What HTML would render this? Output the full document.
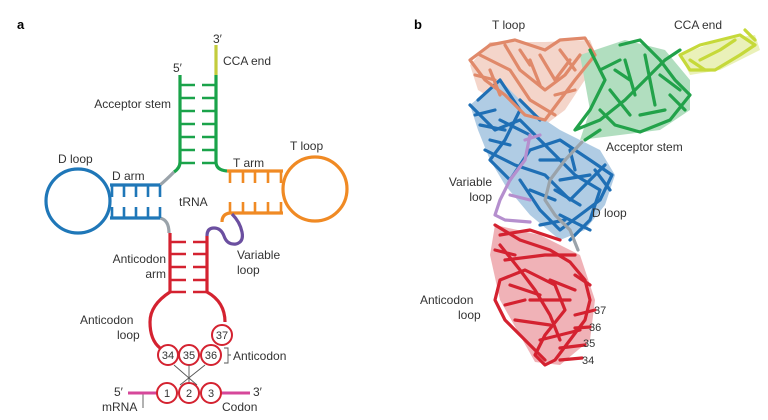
<!DOCTYPE html>
<html><head><meta charset="utf-8"><style>
body{margin:0;background:#fff;}
svg{display:block;font-family:"Liberation Sans",sans-serif;}
text{font-size:12px;fill:#333;}
</style></head><body>
<svg width="768" height="420" viewBox="0 0 768 420" xmlns="http://www.w3.org/2000/svg">
<text x="17" y="29" style="font-weight:bold;font-size:13px;fill:#000">a</text>
<text x="414" y="29" style="font-weight:bold;font-size:13px;fill:#000">b</text>
<g fill="none" stroke-width="3.2">
<path d="M180 75 V162 Q180 168 174 172" stroke="#1aa34a"/>
<path d="M216 75 V162 Q216 170 227 171" stroke="#1aa34a"/>
<line x1="216" y1="45" x2="216" y2="75" stroke="#c3cc3c"/>
<g stroke="#1aa34a" stroke-width="2.6">
<path d="M180 85h15M180 98h15M180 111h15M180 124h15M180 137h15M180 150h15M180 163h15"/>
<path d="M202 85h14M202 98h14M202 111h14M202 124h14M202 137h14M202 150h14M202 163h14"/>
</g>
<path d="M174 172 Q165 181 160 185" stroke="#9aa3aa"/>
<path d="M160 218 Q169 220 169 233" stroke="#9aa3aa"/>
<g stroke="#1f77b8">
<path d="M160 185 H110"/>
<path d="M160 218 H110"/>
<circle cx="78" cy="201" r="32"/>
<path d="M112 185v12M124 185v12M136 185v12M148 185v12M160 185v12M112 218v-11M124 218v-11M136 218v-11M148 218v-11M160 218v-11" stroke-width="2.6"/>
</g>
<g stroke="#f08a24">
<path d="M227 171 H283"/>
<path d="M230 213 H283"/>
<circle cx="315" cy="189" r="32"/>
<path d="M230 171v12M243 171v12M255 171v12M268 171v12M281 171v12M230 213v-11M243 213v-11M255 213v-11M268 213v-11M281 213v-11" stroke-width="2.6"/>
</g>
<path d="M230 213 Q222 214 222 222" stroke="#f08a24"/>
<path d="M207 236 Q207 228 214 228 Q221 228 224 236 Q227 245 236 244 Q244 242 242 232 Q240 222 232 214" stroke="#6b4fa0"/>
</g>
<g fill="none" stroke="#d42230" stroke-width="3.2">
<path d="M170 233 V292 Q150 305 150 322 Q150 340 160 348"/>
<path d="M207 236 V292 Q225 302 225 322"/>
<path d="M170 242h16M170 254h16M170 267h16M170 280h16M170 292h16M193 242h14M193 254h14M193 267h14M193 280h14M193 292h14" stroke-width="2.6"/>
</g>
<g fill="#fff" stroke="#d42230" stroke-width="2">
<circle cx="222" cy="335" r="10"/>
<circle cx="168" cy="355" r="10"/><circle cx="189" cy="355" r="10"/><circle cx="211" cy="355" r="10"/>
</g>
<g stroke="#555" stroke-width="0.9" fill="none">
<line x1="174" y1="365" x2="197" y2="385"/><line x1="205" y1="365" x2="180" y2="385"/><line x1="189" y1="365" x2="189" y2="383"/>
<path d="M224 348h4v15h-4M228 355h3"/>
<path d="M143 393v15"/>
</g>
<g stroke="#d6479a" stroke-width="3"><line x1="128" y1="393" x2="157" y2="393"/><line x1="221" y1="393" x2="250" y2="393"/></g>
<g fill="#fff" stroke="#d42230" stroke-width="2">
<circle cx="167" cy="393" r="10"/><circle cx="189" cy="393" r="10"/><circle cx="211" cy="393" r="10"/>
</g>
<g text-anchor="middle">
<text x="222" y="339" style="font-size:11px">37</text>
<text x="168" y="359" style="font-size:11px">34</text><text x="189" y="359" style="font-size:11px">35</text><text x="211" y="359" style="font-size:11px">36</text>
<text x="167" y="397" style="font-size:11px">1</text><text x="189" y="397" style="font-size:11px">2</text><text x="211" y="397" style="font-size:11px">3</text>
</g>
<text x="213" y="43">3′</text><text x="173" y="72">5′</text>
<text x="223" y="65">CCA end</text>
<text x="171" y="108" text-anchor="end">Acceptor stem</text>
<text x="58" y="163">D loop</text><text x="112" y="180">D arm</text>
<text x="290" y="150">T loop</text><text x="233" y="167">T arm</text>
<text x="179" y="206">tRNA</text>
<text x="166" y="263" text-anchor="end">Anticodon</text><text x="166" y="278" text-anchor="end">arm</text>
<text x="237" y="259">Variable</text><text x="237" y="274">loop</text>
<text x="80" y="324">Anticodon</text><text x="117" y="339">loop</text>
<text x="233" y="360">Anticodon</text>
<text x="114" y="396">5′</text><text x="253" y="396">3′</text>
<text x="102" y="411">mRNA</text><text x="222" y="411">Codon</text>

<!-- panel b -->
<g opacity="0.35">
<path d="M470 65 L490 42 L545 42 L590 40 L598 60 L565 110 L545 125 L510 110 L478 90Z" fill="#e0896a"/>
<path d="M580 55 L625 40 L665 50 L690 80 L690 110 L660 130 L620 135 L580 140 L590 110Z" fill="#22a24a"/>
<path d="M680 55 L720 40 L755 35 L760 50 L720 70 L690 75Z" fill="#c6d93a"/>
<path d="M470 105 L500 80 L530 110 L560 130 L600 150 L615 175 L605 205 L585 230 L560 240 L530 215 L505 185 L490 160 L478 130Z" fill="#1f6fb5"/>
<path d="M495 225 L540 235 L580 255 L595 300 L590 340 L560 365 L535 362 L500 300 L490 255Z" fill="#d42230"/>
</g>
<g fill="none" stroke-linecap="round" stroke-linejoin="round">
<g stroke="#1f6fb5" stroke-width="3.2">
<path d="M478 100 L500 80 L520 110 L505 140 L490 160 L510 180 L530 150 L560 140 L590 160 L612 175 L600 200 L580 215 L560 230 L540 210 L520 180"/>
<path d="M470 105 L495 130 L520 120 L550 150 L575 175 L600 190 L590 220 L570 240"/>
<path d="M485 150 L515 165 L545 175 L570 200 L585 185 L605 165"/>
<path d="M500 120 L530 135 M540 160 L565 160 M555 190 L580 205 M520 100 L540 120 M490 140 L510 145 M560 215 L590 230 M475 115 L495 110 M530 190 L555 200 M570 150 L575 170 M595 170 L610 190 M480 125 L505 130 M540 225 L565 220 M560 180 L590 175"/>
</g>
<g stroke="#e0896a" stroke-width="3.2">
<path d="M470 60 L490 45 L515 40 L545 50 L560 40 L585 38 L595 55 L575 80 L560 100 L545 120 L525 115 L505 95 L485 80 L470 60"/>
<path d="M480 55 L510 70 L530 100 L555 115 M505 45 L520 70 L545 90 L565 75 L580 55 M540 55 L555 80 L570 60 M490 70 L500 95 M530 60 L540 85 M475 75 L495 80 M520 50 L530 65 M555 95 L575 90 M560 50 L575 70"/>
</g>
<g stroke="#22a24a" stroke-width="3.2">
<path d="M590 50 L605 80 L590 110 L575 130 L600 120 L625 100 L650 75 L665 60 L680 50"/>
<path d="M620 45 L640 40 L660 60 L675 80 L690 95 L670 120 L640 132 L615 125 L600 110"/>
<path d="M625 60 L635 95 M645 55 L655 105 M660 75 L680 90 M610 90 L630 115 M630 80 L615 70 M600 130 L585 140 M640 115 L665 110 M600 70 L620 60 M670 95 L685 110"/>
</g>
<g stroke="#c6d93a" stroke-width="3.2">
<path d="M680 55 L700 45 L720 40 L740 35 L755 45 L740 55 L715 70 L690 70 L680 55"/>
<path d="M700 60 L720 50 L735 40 M745 30 L755 40 M690 60 L705 70"/>
</g>
<g stroke="#b58fce" stroke-width="3.2">
<path d="M530 135 L525 160 L510 180 L500 200 L495 215 L505 220 L530 222"/>
<path d="M525 140 L540 135 M510 195 L530 200"/>
</g>
<g stroke="#9aa3aa" stroke-width="3.2">
<path d="M582 142 L565 160 L550 180 L545 200 L555 215 L570 230 L578 250"/>
</g>
<g stroke="#d42230" stroke-width="3.2">
<path d="M495 225 L520 240 L550 250 L570 262 L585 280 L590 300 L585 320 L570 340 L555 360 L545 365 L535 355 L545 335 L565 310 L555 285 L525 270 L500 280 L495 300 L505 320 L525 340 L545 360"/>
<path d="M500 235 L530 230 L560 240 M505 260 L545 255 L575 255 M510 285 L540 295 M530 300 L570 300 M515 320 L550 325 M540 340 L580 330 M560 348 L585 345 M560 360 L582 358 M575 315 L595 310 M575 328 L590 327 M495 250 L515 255 M575 275 L590 285 M505 305 L525 300 M550 280 L575 290"/>
<path d="M500 245 L520 270 L535 290 L550 315 L560 340"/>
</g>
</g>
<text x="492" y="29">T loop</text><text x="674" y="29">CCA end</text>
<text x="606" y="151">Acceptor stem</text>
<text x="492" y="186" text-anchor="end">Variable</text><text x="492" y="201" text-anchor="end">loop</text>
<text x="592" y="217">D loop</text>
<text x="420" y="304">Anticodon</text><text x="458" y="319">loop</text>
<text x="594" y="314" style="font-size:11px">37</text><text x="589" y="331" style="font-size:11px">36</text><text x="583" y="347" style="font-size:11px">35</text><text x="582" y="364" style="font-size:11px">34</text>
</svg>
</body></html>
